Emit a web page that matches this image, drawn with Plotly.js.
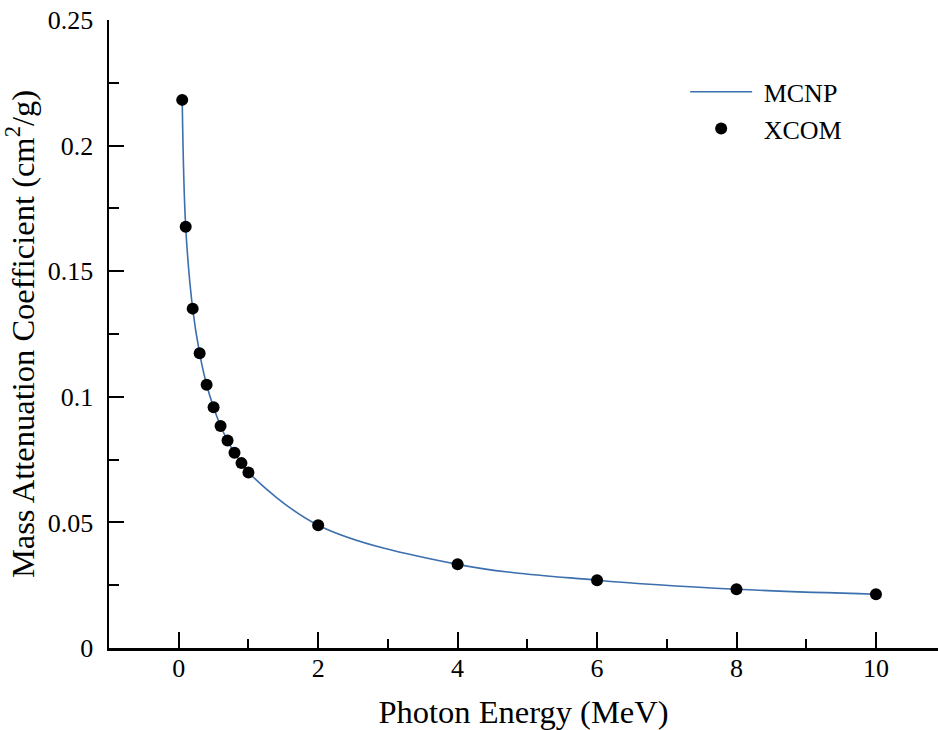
<!DOCTYPE html>
<html>
<head>
<meta charset="utf-8">
<script src="https://cdn.plot.ly/plotly-3.0.1.min.js"></script>
<style>html,body{margin:0;padding:0;background:#fff;}#chart{width:938px;height:730px;}</style>
</head>
<body>
<div id="chart"></div>
<script>
var energies = [0.05, 0.1, 0.2, 0.3, 0.4, 0.5, 0.6, 0.7, 0.8, 0.9, 1, 2, 4, 6, 8, 10];
var mcnpValues = [0.2182, 0.1677, 0.1351, 0.1173, 0.1048, 0.0958, 0.0884, 0.0826, 0.0777, 0.0736, 0.0699, 0.0489, 0.0333, 0.0270, 0.0234, 0.0214];
var xcomValues = [0.2182, 0.1677, 0.1351, 0.1173, 0.1048, 0.0958, 0.0884, 0.0826, 0.0777, 0.0736, 0.0699, 0.0489, 0.0333, 0.0270, 0.0234, 0.0214];
var xTicks = [0, 2, 4, 6, 8, 10];
var xTickLabels = ['0', '2', '4', '6', '8', '10'];
var yTicks = [0, 0.05, 0.1, 0.15, 0.2, 0.25];
var yTickLabels = ['0', '0.05', '0.1', '0.15', '0.2', '0.25'];

var FONT = 'Liberation Serif';

var traces = [
  {
    x: energies, y: mcnpValues, name: '&nbsp;MCNP', type: 'scatter', mode: 'lines',
    line: {color: '#3b6fae', width: 1.6, shape: 'spline', smoothing: 1}
  },
  {
    x: energies, y: xcomValues, name: '&nbsp;XCOM', type: 'scatter', mode: 'markers',
    marker: {color: '#000', size: 12, line: {width: 0}}
  }
];

var layout = {
  width: 938, height: 730,
  margin: {l: 109.3, r: 0, t: 20, b: 82.3},
  paper_bgcolor: '#fff', plot_bgcolor: '#fff',
  font: {family: FONT, color: '#000', size: 26},
  showlegend: true,
  legend: {
    x: 0.695, y: 0.923, xanchor: 'left', yanchor: 'top',
    font: {family: FONT, size: 26, color: '#000'},
    bgcolor: 'rgba(0,0,0,0)', itemwidth: 62, tracegroupgap: 0
  },
  xaxis: {
    range: [-1, 10.89],
    tickmode: 'array', tickvals: xTicks, ticktext: xTickLabels,
    ticks: 'inside', ticklen: 16, tickwidth: 2, tickcolor: '#000',
    minor: {ticks: 'inside', ticklen: 9, tickwidth: 2, dtick: 1, tick0: 0, tickcolor: '#000'},
    showline: true, linecolor: '#000', linewidth: 2.5,
    showgrid: false, zeroline: false,
    tickfont: {family: FONT, size: 26, color: '#000'},
    ticklabelstandoff: -5,
    title: {text: 'Photon Energy (MeV)', font: {family: FONT, size: 32.5, color: '#000'}, standoff: 21}
  },
  yaxis: {
    range: [0, 0.25],
    tickmode: 'array', tickvals: yTicks, ticktext: yTickLabels,
    ticks: 'inside', ticklen: 15, tickwidth: 2, tickcolor: '#000',
    minor: {ticks: 'inside', ticklen: 10, tickwidth: 2, dtick: 0.025, tick0: 0, tickcolor: '#000'},
    showline: true, linecolor: '#000', linewidth: 2.5,
    showgrid: false, zeroline: false,
    tickfont: {family: FONT, size: 26, color: '#000'},
    ticklabelstandoff: 8,
    title: {text: 'Mass Attenuation Coefficient (cm<sup>2</sup>/g)', font: {family: FONT, size: 32.5, color: '#000'}, standoff: 10}
  }
};

Plotly.newPlot('chart', traces, layout, {displayModeBar: false, staticPlot: true});
</script>
</body>
</html>
